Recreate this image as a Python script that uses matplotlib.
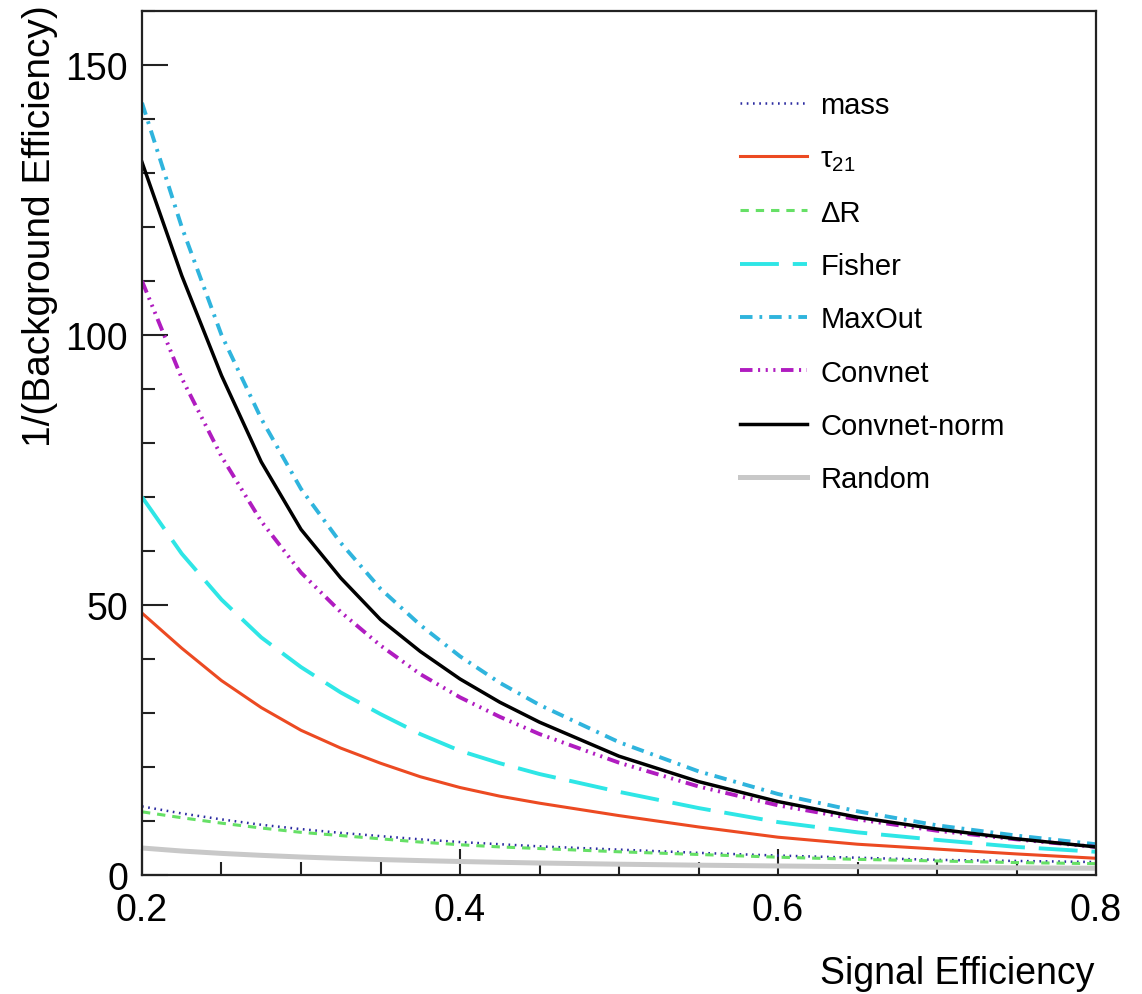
import matplotlib
matplotlib.use("Agg")
import matplotlib.pyplot as plt
from matplotlib.ticker import MultipleLocator

plt.rcParams['font.family'] = ['Liberation Sans', 'DejaVu Sans']
plt.rcParams['mathtext.fontset'] = 'custom'
plt.rcParams['mathtext.rm'] = 'Liberation Sans'
plt.rcParams['mathtext.it'] = 'Liberation Sans'
plt.rcParams['lines.scale_dashes'] = False

# ---- data ----
sig_eff = [0.2, 0.225, 0.25, 0.275, 0.3, 0.325, 0.35, 0.375, 0.4, 0.425, 0.45, 0.5,
           0.55, 0.6, 0.65, 0.7, 0.75, 0.8]
mass = [12.7, 11.4, 10.3, 9.3, 8.5, 7.8, 7.2, 6.6, 6.1, 5.7, 5.3, 4.7,
        4.1, 3.6, 3.2, 2.8, 2.6, 2.4]
tau21 = [48.5, 42.0, 36.0, 31.0, 26.8, 23.5, 20.7, 18.2, 16.2, 14.6, 13.3, 11.0,
         8.9, 7.0, 5.7, 4.8, 3.9, 3.1]
deltaR = [11.7, 10.6, 9.6, 8.7, 7.9, 7.3, 6.7, 6.1, 5.6, 5.2, 4.9, 4.3,
          3.8, 3.3, 2.9, 2.6, 2.3, 2.1]
fisher = [70, 59.5, 51, 44, 38.5, 33.8, 29.8, 26.1, 23.0, 20.7, 18.7, 15.4,
          12.4, 9.8, 7.9, 6.5, 5.2, 4.3]
maxout = [143, 120, 100, 84.5, 71.5, 61.5, 53, 46.3, 40.5, 35.6, 31.5, 24.6,
          19.2, 15.0, 11.8, 9.2, 7.3, 5.7]
convnet = [110, 92, 77.5, 65.5, 56, 48.7, 42.5, 37.2, 32.9, 29.3, 26.1, 20.8,
           16.4, 12.9, 10.3, 8.2, 6.6, 5.2]
convnet_norm = [132, 111, 92.5, 76.5, 64.0, 55.0, 47.3, 41.4, 36.3, 32.0, 28.3, 22.0,
                17.3, 13.6, 10.7, 8.5, 6.7, 5.2]
random_ = [5.0, 4.44, 4.0, 3.64, 3.33, 3.08, 2.86, 2.67, 2.5, 2.35, 2.22, 2.0,
           1.82, 1.67, 1.54, 1.43, 1.33, 1.25]

labels = ['mass', 'τ$_{21}$', 'ΔR', 'Fisher', 'MaxOut', 'Convnet', 'Convnet-norm', 'Random']
x_ticks = [0.2, 0.4, 0.6, 0.8]
y_ticks = [0, 50, 100, 150]

W, H = 1142, 995
fig = plt.figure(figsize=(W / 100, H / 100), dpi=100)
ax = fig.add_axes([142 / W, 1 - 876 / H, (1096 - 142) / W, (876 - 12) / H])

series = [
    (mass, dict(color='#2a2aa0', lw=1.8, ls=(0, (1.2, 3.3)))),
    (tau21, dict(color='#ec4a22', lw=2.2, ls='-')),
    (deltaR, dict(color='#66e066', lw=2.2, ls=(0, (6, 5)))),
    (fisher, dict(color='#2ee6e6', lw=2.8, ls=(0, (28, 10)))),
    (maxout, dict(color='#2fb4dd', lw=2.8, ls=(0, (9, 5, 2, 5)))),
    (convnet, dict(color='#b01cc0', lw=2.8, ls=(0, (9, 4, 1.5, 4, 1.5, 4, 1.5, 4)))),
    (convnet_norm, dict(color='black', lw=2.5, ls='-')),
    (random_, dict(color='#c8c8c8', lw=3.6, ls='-')),
]
handles = []
for (vals, st), lab in zip(series, labels):
    h, = ax.plot(sig_eff, vals, label=lab, solid_joinstyle='round', **st)
    handles.append(h)

ax.set_xlim(0.2, 0.8)
ax.set_ylim(0, 160)
ax.set_xticks(x_ticks)
ax.set_xticklabels([str(t) for t in x_ticks])
ax.set_yticks(y_ticks)
ax.set_yticklabels([str(t) for t in y_ticks])
ax.xaxis.set_minor_locator(MultipleLocator(0.05))
ax.yaxis.set_minor_locator(MultipleLocator(10))
ax.tick_params(which='both', direction='in', top=False, right=False, width=1.5, color='#222222')
ax.tick_params(which='major', length=19, labelsize=27, pad=10)
ax.tick_params(which='minor', length=9.5)
ax.tick_params(axis='x', which='major', pad=12)
for s in ax.spines.values():
    s.set_linewidth(1.6)
    s.set_color('#222222')

fig.text(1094 / W, 1 - 984 / H, 'Signal Efficiency', ha='right', va='baseline', fontsize=27)
fig.text(40 / W, 1 - 5 / H, '1/(Background Efficiency)', rotation=90, ha='center', va='top', fontsize=28)

leg = ax.legend(handles=handles, loc='upper left',
                bbox_to_anchor=(740 / W, 1 - 92 / H), bbox_transform=fig.transFigure,
                frameon=False, fontsize=21, handlelength=2.3, handletextpad=0.45,
                labelspacing=0.87, borderpad=0, borderaxespad=0)

fig.savefig('out.png', dpi=100)
